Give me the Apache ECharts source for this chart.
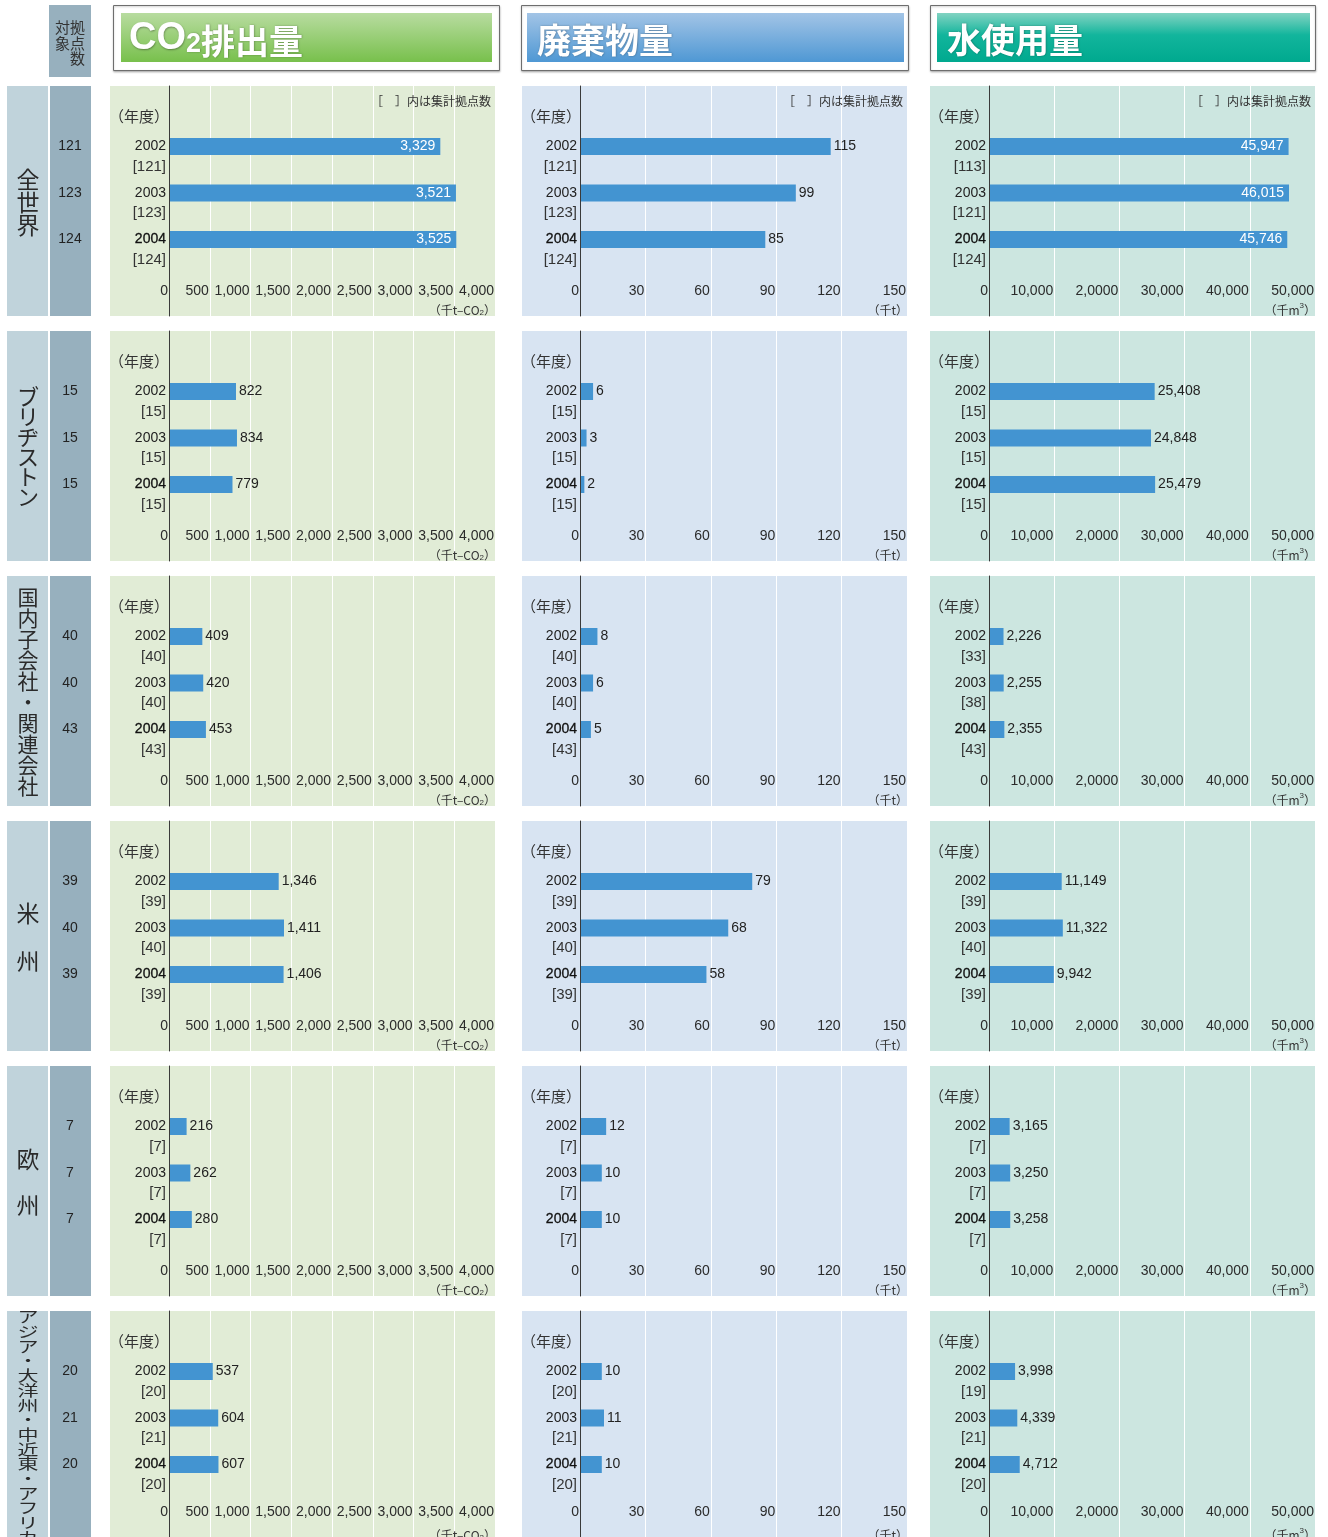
<!DOCTYPE html>
<html>
<head>
<meta charset="utf-8">
<script src="https://cdn.jsdelivr.net/npm/echarts@6/dist/echarts.min.js"></script>
<style>
html, body { margin: 0; padding: 0; background: #ffffff; }
#chart { width: 1328px; height: 1537px; }
</style>
</head>
<body>
<div id="chart"></div>
<script>
// ---- data ----
const years = ['2002', '2003', '2004'];
const regions = ['全世界', 'ブリヂストン', '国内子会社・関連会社', '米州', '欧州', 'アジア・大洋州・中近東・アフリカ'];

// 対象拠点数 (per region, per year)
const siteCounts = [[121, 123, 124], [15, 15, 15], [40, 40, 43], [39, 40, 39], [7, 7, 7], [20, 21, 20]];

// CO2排出量 (千t-CO2) and aggregated site counts
const co2Values = [[3329, 3521, 3525], [822, 834, 779], [409, 420, 453], [1346, 1411, 1406], [216, 262, 280], [537, 604, 607]];
const co2Sites = [[121, 123, 124], [15, 15, 15], [40, 40, 43], [39, 40, 39], [7, 7, 7], [20, 21, 20]];

// 廃棄物量 (千t)
const wasteValues = [[115, 99, 85], [6, 3, 2], [8, 6, 5], [79, 68, 58], [12, 10, 10], [10, 11, 10]];
const wasteSites = [[121, 123, 124], [15, 15, 15], [40, 40, 43], [39, 40, 39], [7, 7, 7], [20, 21, 20]];

// 水使用量 (千m3)
const waterValues = [[45947, 46015, 45746], [25408, 24848, 25479], [2226, 2255, 2355], [11149, 11322, 9942], [3165, 3250, 3258], [3998, 4339, 4712]];
const waterSites = [[113, 121, 124], [15, 15, 15], [33, 38, 43], [39, 40, 39], [7, 7, 7], [19, 21, 20]];

// axis tick labels
const co2Ticks = ['0', '500', '1,000', '1,500', '2,000', '2,500', '3,000', '3,500', '4,000'];
const wasteTicks = ['0', '30', '60', '90', '120', '150'];
const waterTicks = ['0', '10,000', '2,0000', '30,000', '40,000', '50,000'];

// ---- layout & style ----
const NUM_FONT = '"Liberation Sans", Arial, sans-serif';
const JP_FONT = '"Noto Sans CJK JP", "Noto Sans", sans-serif';
const BAR_COLOR = '#4394d1';
const TEXT_COLOR = '#222222';
const AXIS_COLOR = '#3a3a3a';

const ROW_TOP = [86, 331, 576, 821, 1066, 1311];
const PANEL_H = 230;
const BAND_TOP = 37.25;
const BAND_H = 139.5;

const panels = [
  { x0: 110, axis: 169, x1: 495, bg: '#e1ecd6', max: 4000, step: 500, ticks: co2Ticks, values: co2Values, sites: co2Sites,
    unit: '（千t–CO{sub|2}）', title: '{a|CO}{b|2}{c|排出量}', hx0: 113.5, hx1: 499.5, ix0: 121, ix1: 492,
    grad: [[0, '#b8dca0'], [1, '#78c04c']] },
  { x0: 522, axis: 580, x1: 907, bg: '#d8e4f2', max: 150, step: 30, ticks: wasteTicks, values: wasteValues, sites: wasteSites,
    unit: '（千t）', title: '{c|廃棄物量}', hx0: 521.5, hx1: 908.5, ix0: 527, ix1: 904,
    grad: [[0, '#a2c4e6'], [1, '#4f98d4']] },
  { x0: 930, axis: 989, x1: 1315, bg: '#cce6e0', max: 50000, step: 10000, ticks: waterTicks, values: waterValues, sites: waterSites,
    unit: '（千m{sup|3}）', title: '{c|水使用量}', hx0: 930.5, hx1: 1315.5, ix0: 937, ix1: 1310,
    grad: [[0, '#82d3c2'], [0.45, '#12b59c'], [1, '#00a98f']] }
];

// vertical region labels: font size, line pitch, vertical squash
const regionStyle = [
  { size: 23, pitch: 23, scaleY: 1 },
  { size: 22, pitch: 20, scaleY: 1 },
  { size: 21, pitch: 21, scaleY: 1 },
  { size: 23, pitch: 48, scaleY: 1 },
  { size: 23, pitch: 46, scaleY: 1 },
  { size: 21, pitch: 21, scaleY: 0.7 }
];

const grids = [], xAxes = [], yAxes = [], series = [], graphics = [];

const fmt = v => v.toLocaleString('en-US');

// ---- header row ----
graphics.push({ type: 'rect', shape: { x: 49, y: 5, width: 42, height: 72 }, style: { fill: '#97b0be' }, z: 1 });
graphics.push({ type: 'text', x: 55, y: 20, z: 10,
  style: { text: '対拠\n象点\n　数', fontSize: 15, lineHeight: 15.5, fontFamily: JP_FONT, fill: '#333333', align: 'left', verticalAlign: 'top' } });

panels.forEach(p => {
  graphics.push({ type: 'rect', z: 1,
    shape: { x: p.hx0, y: 5.5, width: p.hx1 - p.hx0, height: 65 },
    style: { fill: '#ffffff', stroke: '#6e6e6e', lineWidth: 1, shadowBlur: 2, shadowColor: 'rgba(0,0,0,0.25)', shadowOffsetY: 1 } });
  graphics.push({ type: 'rect', z: 2,
    shape: { x: p.ix0, y: 13, width: p.ix1 - p.ix0, height: 49 },
    style: { fill: new echarts.graphic.LinearGradient(0, 0, 0, 1, p.grad.map(s => ({ offset: s[0], color: s[1] }))) } });
  graphics.push({ type: 'text', z: 10, x: p.ix0 + (p.title.indexOf('CO') >= 0 ? 8 : 10), y: 39,
    style: {
      text: p.title, align: 'left', verticalAlign: 'middle', fill: '#ffffff',
      textShadowColor: 'rgba(0,0,0,0.35)', textShadowBlur: 2, textShadowOffsetX: 0.5, textShadowOffsetY: 0.5,
      rich: {
        a: { fontSize: 38, lineHeight: 38, fontWeight: 'bold', fontFamily: NUM_FONT, fill: '#ffffff', verticalAlign: 'bottom' },
        b: { fontSize: 27, lineHeight: 27, fontWeight: 'bold', fontFamily: NUM_FONT, fill: '#ffffff', verticalAlign: 'bottom' },
        c: { fontSize: 34, lineHeight: 36, fontWeight: 'bold', fontFamily: JP_FONT, fill: '#ffffff', verticalAlign: 'bottom' }
      }
    } });
  // note on bracketed numbers
  graphics.push({ type: 'text', z: 10, x: p.x1 - 4, y: ROW_TOP[0] + 15.5,
    style: { text: '［　］内は集計拠点数', fontSize: 12, fontFamily: JP_FONT, fill: '#333333', align: 'right', verticalAlign: 'middle' } });
});

// ---- rows ----
regions.forEach((name, r) => {
  const top = ROW_TOP[r];
  // region / count columns
  graphics.push({ type: 'rect', z: -10, shape: { x: 7, y: top, width: 41, height: PANEL_H }, style: { fill: '#c0d3db' } });
  graphics.push({ type: 'rect', z: -10, shape: { x: 50, y: top, width: 41, height: PANEL_H }, style: { fill: '#97b0be' } });
  const rs = regionStyle[r];
  graphics.push({ type: 'text', z: 10, x: 28, y: top + PANEL_H / 2 + 1, scaleY: rs.scaleY,
    style: { text: Array.from(name).join('\n'), fontSize: rs.size, lineHeight: rs.pitch, fontFamily: JP_FONT,
      fill: '#2a2a2a', align: 'center', verticalAlign: 'middle' } });

  panels.forEach((p, c) => {
    const gFrame = grids.length;
    // panel background
    graphics.push({ type: 'rect', z: -10, shape: { x: p.x0, y: top, width: p.x1 - p.x0, height: PANEL_H }, style: { fill: p.bg } });
    graphics.push({ type: 'text', z: 10, x: p.x0 - 1, y: top + 30.5,
      style: { text: '（年度）', fontSize: 15, fontFamily: JP_FONT, fill: '#333333', align: 'left', verticalAlign: 'middle' } });
    graphics.push({ type: 'text', z: 10, x: p.x1 + 1, y: top + 224,
      style: { text: p.unit, align: 'right', verticalAlign: 'middle', fill: '#333333',
        rich: {
          sub: { fontSize: 8, fontFamily: NUM_FONT, fill: '#333333', verticalAlign: 'bottom', lineHeight: 10 },
          sup: { fontSize: 8, fontFamily: NUM_FONT, fill: '#333333', verticalAlign: 'top', lineHeight: 16 }
        },
        fontSize: 12, fontFamily: JP_FONT, lineHeight: 14 } });

    // frame grid: full panel height, gridlines + axis line + tick labels
    grids.push({ left: p.axis, top: top, width: p.x1 - p.axis, height: PANEL_H, containLabel: false });
    xAxes.push({
      gridIndex: gFrame, type: 'value', min: 0, max: p.max, interval: p.step,
      axisLine: { show: false }, axisTick: { show: false },
      splitLine: { show: true, showMinLine: false, lineStyle: { color: '#ffffff', width: 1 } },
      axisLabel: {
        inside: true, margin: 25, align: 'right', verticalAlign: 'middle', padding: [0, 1, 0, 0],
        fontSize: 14, fontFamily: NUM_FONT, color: '#2b2b2b', showMinLabel: true, showMaxLabel: true,
        formatter: v => p.ticks[Math.round(v / p.step)]
      }
    });
    yAxes.push({
      gridIndex: gFrame, type: 'value', min: 0, max: 1, z: 5,
      axisLine: { show: true, lineStyle: { color: AXIS_COLOR, width: 1 } },
      axisTick: { show: false }, axisLabel: { show: false }, splitLine: { show: false }
    });

    // bar grid: the three year bands
    const gBar = grids.length;
    grids.push({ left: p.axis, top: top + BAND_TOP, width: p.x1 - p.axis, height: BAND_H, containLabel: false });
    const xBar = xAxes.length;
    xAxes.push({ gridIndex: gBar, type: 'value', min: 0, max: p.max, show: false });
    const yBar = yAxes.length;
    const sites = p.sites[r];
    yAxes.push({
      gridIndex: gBar, type: 'category', data: years, inverse: true,
      axisLine: { show: false }, axisTick: { show: false }, splitLine: { show: false },
      axisLabel: {
        margin: 3, align: 'right', verticalAlign: 'middle', interval: 0,
        formatter: (val, idx) => `{s| }\n{${idx === 2 ? 'yb' : 'y'}|${val}}\n{c|[${sites[idx]}]}`,
        rich: {
          s: { fontSize: 14, lineHeight: 20, fontFamily: NUM_FONT },
          y: { fontSize: 14, lineHeight: 20, fontFamily: NUM_FONT, color: TEXT_COLOR },
          yb: { fontSize: 14, lineHeight: 20, fontFamily: NUM_FONT, color: '#111111', textBorderColor: '#111111', textBorderWidth: 0.3 },
          c: { fontSize: 15, lineHeight: 20, fontFamily: NUM_FONT, color: '#333333' }
        }
      }
    });
    if (c === 0) {
      // 対象拠点数 column, aligned with the year bands
      yAxes.push({
        gridIndex: gBar, type: 'category', data: years, inverse: true, position: 'left', offset: p.axis - 70,
        axisLine: { show: false }, axisTick: { show: false }, splitLine: { show: false },
        axisLabel: {
          margin: 0, align: 'center', verticalAlign: 'middle', interval: 0,
          fontSize: 14, fontFamily: NUM_FONT, color: TEXT_COLOR,
          formatter: (val, idx) => String(siteCounts[r][idx])
        }
      });
    }

    series.push({
      type: 'bar', xAxisIndex: xBar, yAxisIndex: yBar, barWidth: 17,
      itemStyle: { color: BAR_COLOR },
      data: p.values[r].map(v => {
        const inside = v / p.max > 0.8;
        return {
          value: v,
          label: inside
            ? { show: true, position: 'insideRight', distance: 5, color: '#ffffff' }
            : { show: true, position: 'right', distance: 3, color: TEXT_COLOR }
        };
      }),
      label: { show: true, fontSize: 14, fontFamily: NUM_FONT, formatter: q => fmt(q.value) },
      animation: false, silent: true
    });
  });
});

const chart = echarts.init(document.getElementById('chart'), null, { renderer: 'canvas', width: 1328, height: 1537 });
chart.setOption({
  backgroundColor: '#ffffff',
  animation: false,
  textStyle: { fontFamily: NUM_FONT },
  grid: grids,
  xAxis: xAxes,
  yAxis: yAxes,
  series: series,
  graphic: { elements: graphics }
});
</script>
</body>
</html>
